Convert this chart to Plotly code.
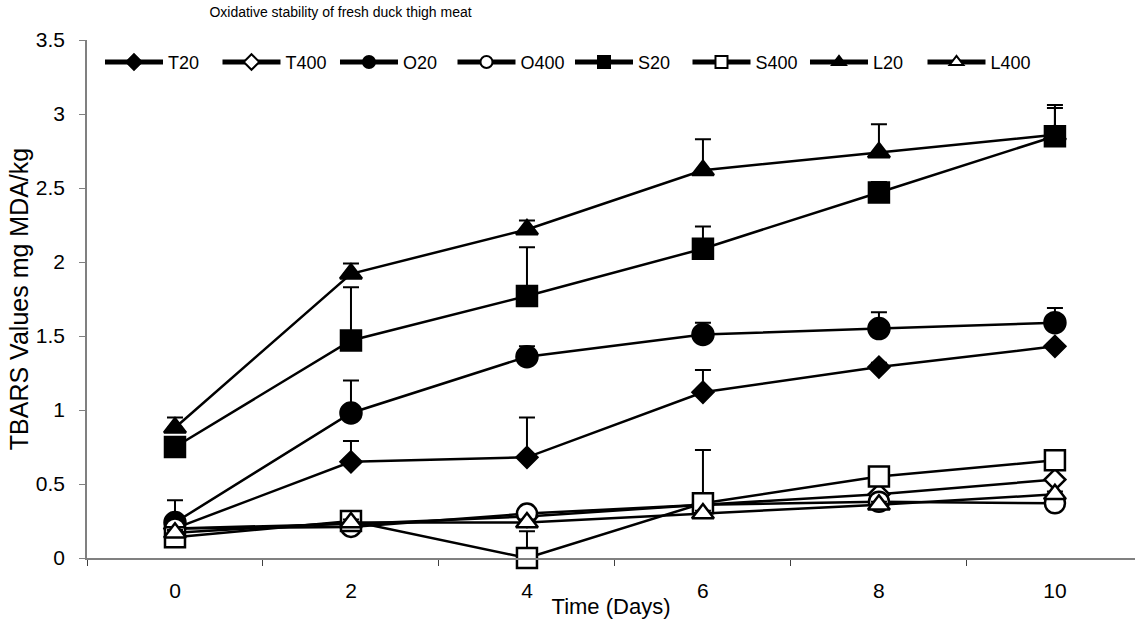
import plotly.graph_objects as go

days = ["0", "2", "4", "6", "8", "10"]

T20 = [0.20, 0.65, 0.68, 1.12, 1.29, 1.43]
T400 = [0.20, 0.23, 0.28, 0.36, 0.43, 0.53]
O20 = [0.24, 0.98, 1.36, 1.51, 1.55, 1.59]
O400 = [0.20, 0.21, 0.30, 0.36, 0.38, 0.37]
S20 = [0.75, 1.47, 1.77, 2.09, 2.47, 2.85]
S400 = [0.14, 0.25, 0.00, 0.37, 0.55, 0.66]
L20 = [0.88, 1.92, 2.22, 2.62, 2.74, 2.86]
L400 = [0.17, 0.24, 0.24, 0.30, 0.36, 0.43]

T20_err = [0.02, 0.14, 0.27, 0.15, 0.03, 0.02]
T400_err = [0.02, 0.02, 0.02, 0.02, 0.02, 0.02]
O20_err = [0.15, 0.22, 0.07, 0.08, 0.11, 0.10]
O400_err = [0.02, 0.02, 0.02, 0.02, 0.02, 0.02]
S20_err = [0.02, 0.36, 0.33, 0.15, 0.07, 0.21]
S400_err = [0.02, 0.02, 0.18, 0.36, 0.02, 0.02]
L20_err = [0.07, 0.07, 0.06, 0.21, 0.19, 0.18]
L400_err = [0.02, 0.02, 0.02, 0.02, 0.02, 0.02]

series = [
    ("T20", T20, T20_err, "diamond", 16, "black"),
    ("T400", T400, T400_err, "diamond", 16, "white"),
    ("O20", O20, O20_err, "circle", 21, "black"),
    ("O400", O400, O400_err, "circle", 20, "white"),
    ("S20", S20, S20_err, "square", 20, "black"),
    ("S400", S400, S400_err, "square", 20, "white"),
    ("L20", L20, L20_err, "triangle-up", 19, "black"),
    ("L400", L400, L400_err, "triangle-up", 19, "white"),
]

fig = go.Figure()
for name, vals, err, sym, size, fill in series:
    fig.add_trace(go.Scatter(
        x=days, y=vals, name=name, mode="lines+markers",
        line=dict(color="black", width=2.5),
        marker=dict(symbol=sym, size=size, color=fill,
                    line=dict(color="black", width=2.5)),
        error_y=dict(type="data", symmetric=False, array=err,
                     arrayminus=[0] * len(err), color="black",
                     thickness=2, width=8),
        cliponaxis=False,
    ))

font = "Liberation Sans, Arial, sans-serif"
fig.update_layout(
    width=1135, height=619,
    margin=dict(l=87, r=0, t=40, b=61, autoexpand=False),
    paper_bgcolor="white", plot_bgcolor="white",
    font=dict(family=font, color="black"),
    title=dict(text="Oxidative stability of fresh duck thigh meat",
               x=0.3, xanchor="center", y=0.981, yanchor="middle",
               font=dict(size=14, family=font, color="black")),
    legend=dict(orientation="h", x=0.0124, xanchor="left",
                y=0.957, yanchor="middle", bgcolor="rgba(0,0,0,0)",
                font=dict(size=18, family=font, color="black"),
                itemwidth=58, tracegroupgap=0, itemsizing="constant",
                entrywidth=44.5, entrywidthmode="pixels"),
    showlegend=True,
)
fig.update_xaxes(
    type="category", range=[-0.5, 5.455], automargin=False,
    showline=True, linecolor="#808080", linewidth=1.5,
    ticks="outside", tickson="boundaries", ticklen=6, tickcolor="#404040",
    ticklabelstandoff=13,
    tickfont=dict(size=21, family=font, color="black"),
    showgrid=False, zeroline=False,
    title=dict(text="Time (Days)", font=dict(size=22, family=font, color="black"),
               standoff=0),
)
fig.update_yaxes(
    range=[0, 3.5], dtick=0.5, automargin=False,
    showline=True, linecolor="#808080", linewidth=1.5,
    ticks="outside", ticklen=6, tickcolor="#808080",
    ticklabelstandoff=10,
    tickfont=dict(size=21, family=font, color="black"),
    showgrid=False, zeroline=False,
    title=dict(text="TBARS Values mg MDA/kg", font=dict(size=25, family=font, color="black"),
               standoff=0),
)

fig.write_html("out.html", config={"displayModeBar": False},
               post_script="document.body.style.margin='0';")
